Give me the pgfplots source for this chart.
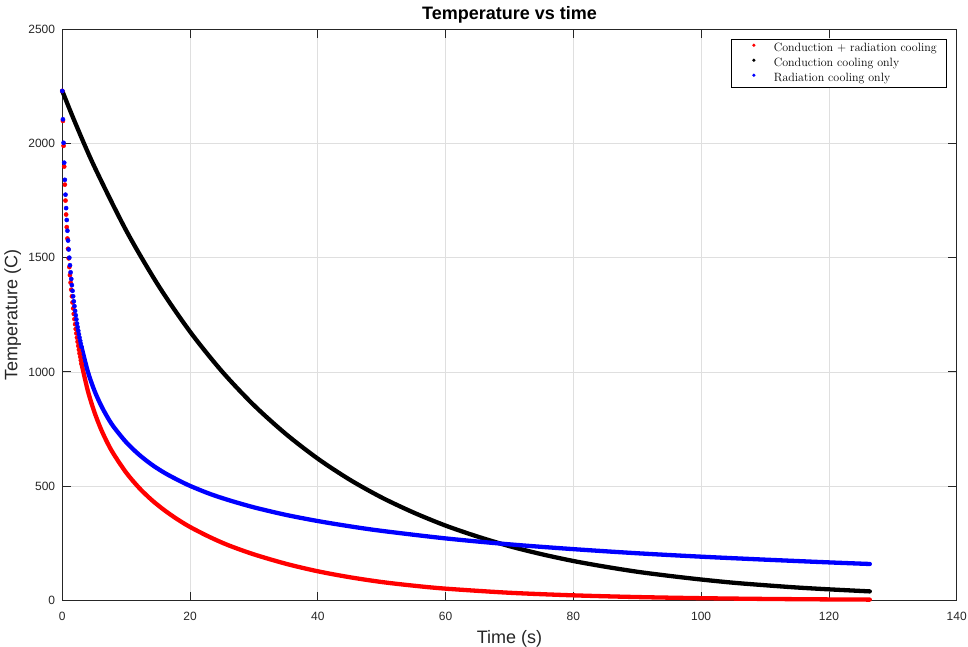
\documentclass[border=0pt]{standalone}
\usepackage{fontspec}
\usepackage{pgfplots}
\pgfplotsset{compat=1.18}
\newfontfamily\arialf{Liberation Sans}
\definecolor{matgray}{RGB}{38,38,38}
\definecolor{gridgray}{RGB}{223,223,223}
\newcommand{\tickfont}{\arialf\fontsize{12bp}{14bp}\selectfont}
\newcommand{\labelfont}{\arialf\fontsize{18bp}{21bp}\selectfont}
\newcommand{\titlefont}{\arialf\bfseries\fontsize{18bp}{21bp}\selectfont}
\pgfplotsset{
  dotlegend/.style={legend image code/.code={\path[draw=none,fill=none] (0bp,0bp) rectangle (33.4bp,0bp); \fill[##1, draw=none] (13.4bp,3bp) circle (1.8bp);}},
}
\begin{document}
\begin{tikzpicture}
\useasboundingbox (-62.3bp,-46.7bp) rectangle (905.7bp,600.3bp);
\begin{axis}[
  at={(0,0)}, anchor=south west,
  scale only axis, width=894.4bp, height=571bp,
  xmin=0, xmax=140, ymin=0, ymax=2500,
  xtick={0,20,...,140}, ytick={0,500,...,2500},
  tick align=inside, major tick length=8.5bp,
  minor tick num=0,
  axis line style={matgray, line width=0.8bp},
  every tick/.style={matgray, line width=0.8bp},
  grid=major, major grid style={line width=0.7bp, color=gridgray},
  clip=false,
  scaled ticks=false,
  /pgf/number format/assume math mode=true,
  /pgf/number format/1000 sep={},
  tick label style={font=\tickfont, color=matgray},
  xticklabel style={anchor=base, yshift=-19.7bp},
  yticklabel style={anchor=east, inner sep=0bp, xshift=-7bp},
  every axis title shift=0pt,
  title={Temperature vs time},
  title style={at={([yshift=10bp]axis description cs:0.5,1)}, anchor=base, font=\titlefont, color=black},
  xlabel={Time (s)},
  xlabel style={at={([yshift=-43bp]axis description cs:0.5,0)}, anchor=base, font=\labelfont, color=matgray},
  ylabel={Temperature (C)},
  ylabel style={at={([xshift=-45bp]axis description cs:0,0.5)}, anchor=base, font=\labelfont, color=matgray},
  legend cell align=left,
  legend style={at={(1,1)}, anchor=north east, xshift=-10.7bp, yshift=-9.7bp,
    draw=black, line width=0.5bp, fill=white, inner xsep=9bp, inner ysep=1.75bp,
    row sep=0.5bp, font=\fontsize{12bp}{14bp}\selectfont,
    nodes={inner sep=0bp, text height=10.5bp, text depth=4bp}},
]
\addlegendimage{dotlegend, red}
\addlegendentry{Conduction + radiation cooling}
\addlegendimage{dotlegend, black}
\addlegendentry{Conduction cooling only}
\addlegendimage{dotlegend, blue}
\addlegendentry{Radiation cooling only}

% red: conduction + radiation, early samples (dt = 0.1 s)
\addplot[forget plot, only marks, mark=*, mark size=2.1bp, color=red, mark options={draw=none, fill=red}] coordinates {
(0,2230) (0.1,2099) (0.2,1990) (0.3,1899) (0.4,1820) (0.5,1750) (0.6,1689) (0.7,1634) (0.8,1584) (0.9,1539)
(1.0,1497) (1.1,1459) (1.2,1424) (1.3,1391) (1.4,1360) (1.5,1331) (1.6,1304) (1.7,1278) (1.8,1254) (1.9,1231)
(2.0,1209) (2.1,1188) (2.2,1169) (2.3,1150) (2.4,1132) (2.5,1114) (2.6,1097) (2.7,1081) (2.8,1066) (2.9,1051) (3.0,1037)
};
% red: dense part
\addplot[forget plot, smooth, color=red, line width=4.3bp, line cap=round, line join=round] coordinates {
(3,1037) (4,917) (5,826) (6,753) (7,693) (8,642) (10,559) (12,493) (14,439) (16,394) (18,355) (20,321)
(23,278) (26,241) (30,201) (35,160) (40,127) (45,101) (50,80) (55,64) (60,51) (70,33) (80,21.7) (90,14.2)
(100,9.3) (110,6) (120,3.9) (126.4,3)
};
% black: conduction only
\addplot[forget plot, smooth, color=black, line width=4.3bp, line cap=round, line join=round] coordinates {
(0,2230) (2,2092) (5,1900) (10,1619) (15,1380) (20,1176) (25,1002) (30,854) (35,728) (40,620) (45,528)
(50,450) (55,384) (60,327) (65,279) (70,237) (75,202) (80,172) (85,147) (90,125) (95,107) (100,91)
(105,77) (110,66) (115,56) (120,48) (126.4,39)
};
% blue: radiation only, early samples (dt = 0.1 s)
\addplot[forget plot, only marks, mark=*, mark size=2.1bp, color=blue, mark options={draw=none, fill=blue}] coordinates {
(0,2230) (0.1,2106) (0.2,2003) (0.3,1916) (0.4,1841) (0.5,1776) (0.6,1717) (0.7,1665) (0.8,1618) (0.9,1575)
(1.0,1536) (1.1,1500) (1.2,1467) (1.3,1436) (1.4,1407) (1.5,1380) (1.6,1355) (1.7,1331) (1.8,1309) (1.9,1288)
(2.0,1267) (2.1,1248) (2.2,1230) (2.3,1212) (2.4,1196) (2.5,1180) (2.6,1165) (2.7,1150) (2.8,1136) (2.9,1123) (3.0,1110)
};
% blue: dense part
\addplot[forget plot, smooth, color=blue, line width=4.3bp, line cap=round, line join=round] coordinates {
(3,1110) (4,1001) (5,920) (6,857) (7,805) (8,761) (10,692) (12,638) (14,594) (16,558) (18,528) (20,501)
(23,467) (26,439) (30,407) (35,374) (40,347) (45,324) (50,304) (60,271) (70,245) (80,224) (90,206)
(100,191) (110,178) (120,166) (126.4,159)
};
\end{axis}
\end{tikzpicture}
\end{document}
